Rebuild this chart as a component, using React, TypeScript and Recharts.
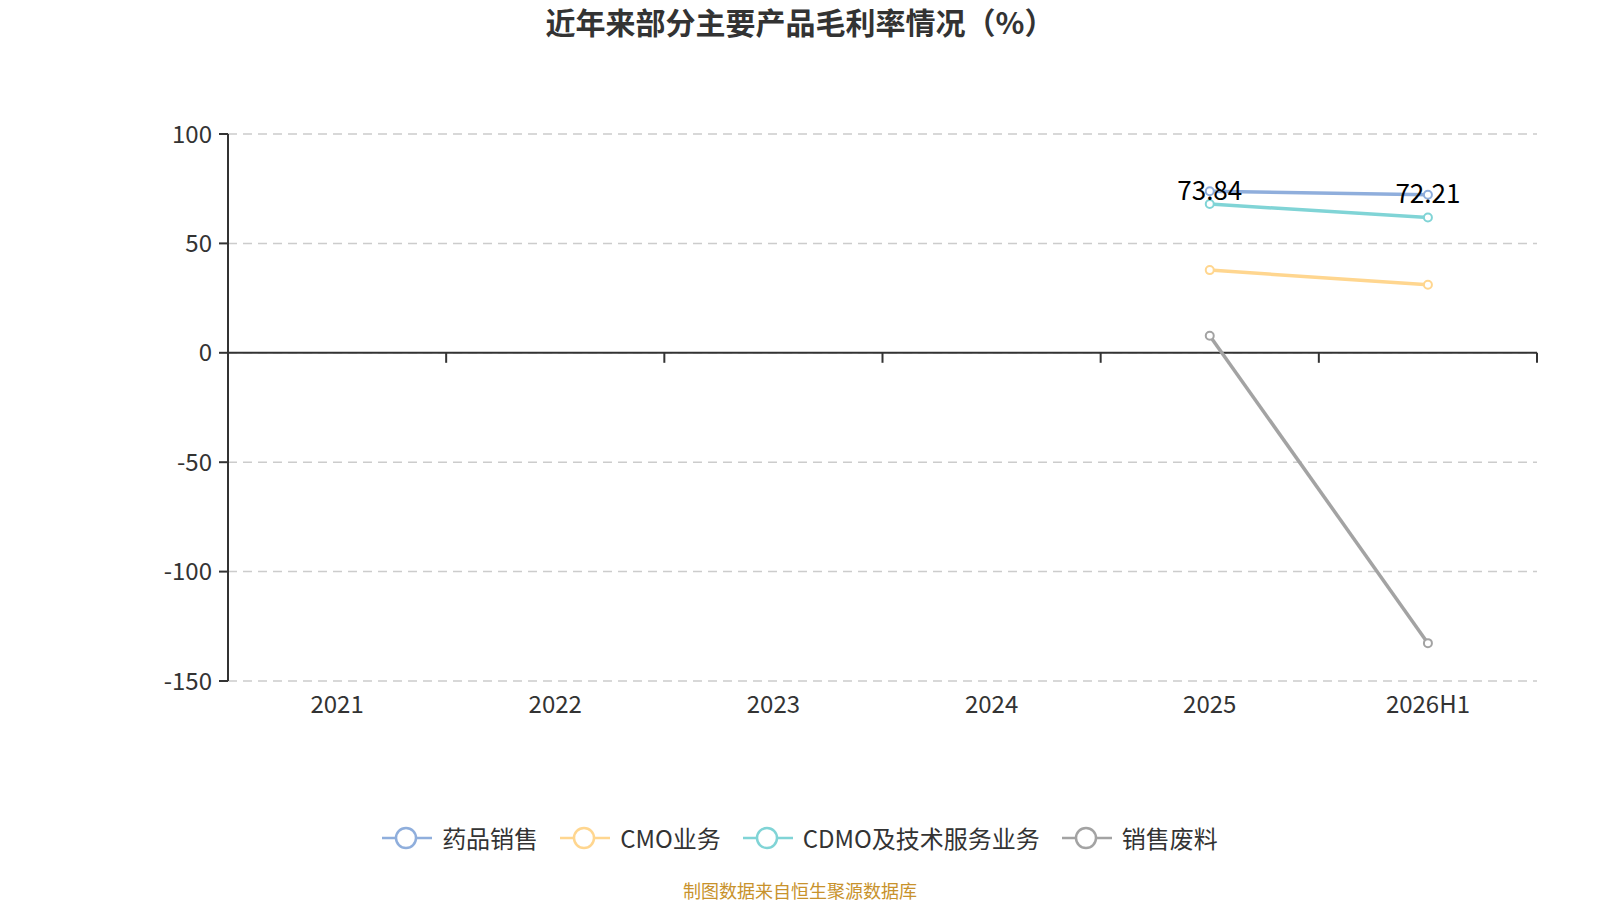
import React from "react";
import { LineChart, Line, XAxis, YAxis, CartesianGrid, ReferenceLine, LabelList } from "recharts";

const categories = ["2021", "2022", "2023", "2024", "2025", "2026H1"];
const drugSales = [null, null, null, null, 73.84, 72.21];
const cmo = [null, null, null, null, 37.8, 31.1];
const cdmo = [null, null, null, null, 68.0, 61.8];
const scrap = [null, null, null, null, 7.8, -132.7];
const yTicks = [-150, -100, -50, 0, 50, 100];

const series = [
  { key: "drug", name: "药品销售", color: "#8FAEDC", values: drugSales, labels: true },
  { key: "cmo", name: "CMO业务", color: "#FFD68F", values: cmo, labels: false },
  { key: "cdmo", name: "CDMO及技术服务业务", color: "#80D4D6", values: cdmo, labels: false },
  { key: "scrap", name: "销售废料", color: "#A3A3A3", values: scrap, labels: false },
];

const data = categories.map((c, i) => {
  const row: Record<string, string | number | null> = { name: c };
  series.forEach((s) => {
    row[s.key] = s.values[i];
  });
  return row;
});

const font = '"Noto Sans CJK SC", "Noto Sans", sans-serif';

// zero line with boundary ticks, like the category axis sitting on y=0
const ZeroAxis = (props: any) => {
  const { x1, x2, y1 } = props;
  const step = (x2 - x1) / categories.length;
  return (
    <g>
      <line x1={x1} y1={y1} x2={x2} y2={y1} stroke="#333" strokeWidth={2} />
      {categories.map((_, i) => (
        <line key={i} x1={x1 + step * (i + 1)} y1={y1} x2={x1 + step * (i + 1)} y2={y1 + 10} stroke="#333" strokeWidth={2} />
      ))}
    </g>
  );
};

const ValueLabel = (props: any) => {
  const { x, y, value } = props;
  if (value == null) return null;
  return (
    <text x={x} y={y - 3} textAnchor="middle" dominantBaseline="central" fill="#000" fontSize={26} fontFamily={font}>
      {value}
    </text>
  );
};

export default function App() {
  return (
    <div style={{ position: "absolute", left: 0, top: 0, width: 1600, height: 900, background: "#fff", fontFamily: font }}>
      <div style={{ position: "absolute", left: 0, top: 0, width: 1600, textAlign: "center", fontSize: 30, fontWeight: "bold", color: "#333", lineHeight: "42px" }}>
        近年来部分主要产品毛利率情况（%）
      </div>
      <LineChart width={1600} height={900} data={data} margin={{ top: 134, right: 63, left: 0, bottom: 189 }}>
        <CartesianGrid vertical={false} stroke="#ccc" strokeDasharray="9 6" strokeWidth={1.5} />
        <XAxis
          dataKey="name"
          scale="band"
          axisLine={false}
          tickLine={false}
          tickSize={6}
          tickMargin={9}
          height={30}
          tick={{ fill: "#333", fontSize: 24, fontFamily: font }}
          interval={0}
        />
        <YAxis
          domain={[-150, 100]}
          ticks={yTicks}
          width={228}
          tickSize={9}
          tickMargin={7}
          axisLine={{ stroke: "#333", strokeWidth: 2 }}
          tickLine={{ stroke: "#333", strokeWidth: 2 }}
          tick={{ fill: "#333", fontSize: 24, fontFamily: font }}
          interval={0}
        />
        <ReferenceLine y={0} shape={ZeroAxis} />
        {series.map((s) => (
          <Line
            key={s.key}
            dataKey={s.key}
            name={s.name}
            stroke={s.color}
            strokeWidth={3.5}
            dot={{ r: 4, fill: "#fff", stroke: s.color, strokeWidth: 2 }}
            activeDot={false}
            isAnimationActive={false}
          >
            {s.labels && <LabelList dataKey={s.key} content={ValueLabel} />}
          </Line>
        ))}
      </LineChart>
      <div style={{ position: "absolute", left: 0, top: 820, width: 1600, display: "flex", justifyContent: "center", alignItems: "center", gap: 22, height: 36 }}>
        {series.map((s) => (
          <div key={s.key} style={{ display: "flex", alignItems: "center", gap: 10 }}>
            <svg width={50} height={26}>
              <line x1={0} y1={13} x2={50} y2={13} stroke={s.color} strokeWidth={2.5} />
              <circle cx={24} cy={13} r={10} fill="#fff" stroke={s.color} strokeWidth={2.5} />
            </svg>
            <span style={{ fontSize: 24, color: "#333", lineHeight: "36px" }}>{s.name}</span>
          </div>
        ))}
      </div>
      <div style={{ position: "absolute", left: 0, top: 878, width: 1600, textAlign: "center", fontSize: 18, color: "#C8922C", lineHeight: "24px" }}>
        制图数据来自恒生聚源数据库
      </div>
    </div>
  );
}
